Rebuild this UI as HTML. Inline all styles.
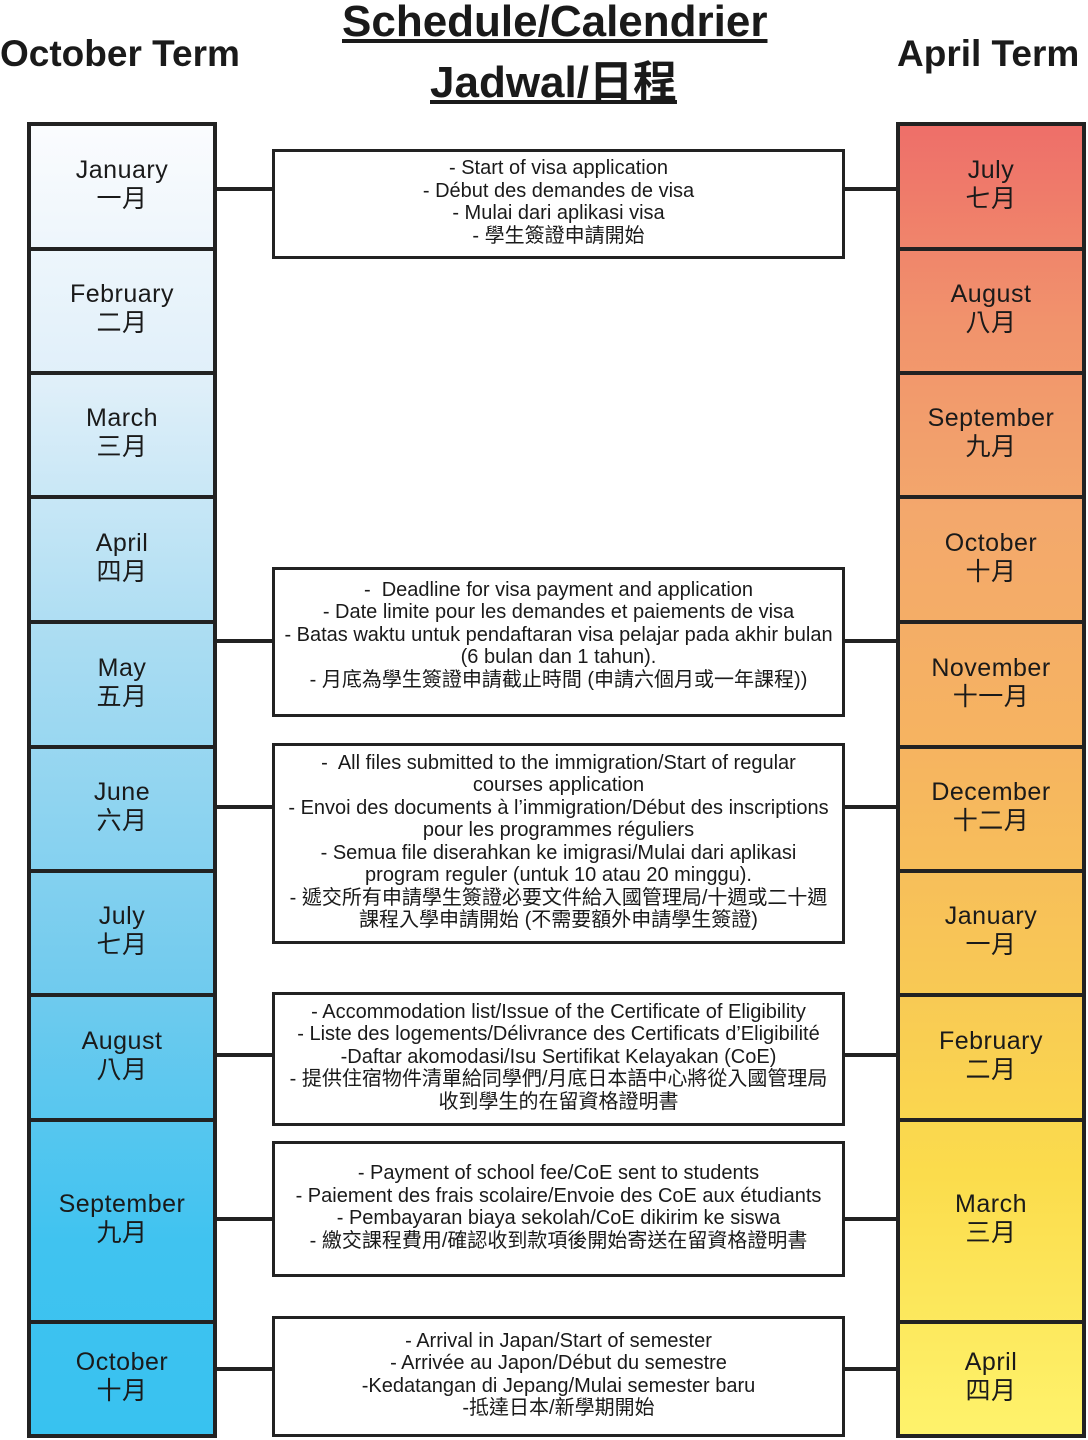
<!DOCTYPE html>
<html><head><meta charset="utf-8"><style>
*{margin:0;padding:0;box-sizing:border-box}
body{width:1088px;height:1440px;background:#fff;position:relative;overflow:hidden;font-family:"Liberation Sans","Noto Sans CJK TC",sans-serif;color:#1a1a1a}
.h{position:absolute;font-weight:bold;font-size:37px;white-space:nowrap}
.col{position:absolute;width:190px}
.cell{position:absolute;left:0;width:190px;border:4px solid #222;display:flex;flex-direction:column;justify-content:center;align-items:center;font-size:25px;line-height:29px;text-align:center;letter-spacing:0.5px;padding-bottom:4px}
.box{position:absolute;left:272px;width:573px;border:3px solid #222;background:#fff;display:flex;flex-direction:column;justify-content:center;align-items:center;font-size:20px;line-height:22.5px;text-align:center;white-space:nowrap;padding-bottom:4px}
.ln{position:absolute;height:4px;background:#222}
</style></head><body>
<div class="h" style="left:0;top:33px;">October Term</div>
<div class="h" style="left:897px;top:33px;">April Term</div>
<div class="h" style="left:342px;top:-3px;font-size:44px;text-decoration:underline;">Schedule/Calendrier</div>
<div class="h" style="left:430px;top:46px;font-size:44px;text-decoration:underline;">Jadwal/日程</div>

<div class="col" style="left:27px;top:122px;height:1316px;background:linear-gradient(#fbfcfe,#dfeff9 20%,#a9dcf2 40%,#72cbee 65%,#40c3f0 85%,#38c2f0)"></div>
<div class="col" style="left:896px;top:122px;height:1316px;background:linear-gradient(#ee6e69,#f1926c 15%,#f3a86c 30%,#f6b460 48%,#f8c855 65%,#fbdc4c 80%,#fef36c)"></div>

<div class="cell" style="left:27px;top:122px;height:129px">January<br>一月</div>
<div class="cell" style="left:27px;top:247px;height:128px">February<br>二月</div>
<div class="cell" style="left:27px;top:371px;height:128px">March<br>三月</div>
<div class="cell" style="left:27px;top:495px;height:129px">April<br>四月</div>
<div class="cell" style="left:27px;top:620px;height:129px">May<br>五月</div>
<div class="cell" style="left:27px;top:745px;height:128px">June<br>六月</div>
<div class="cell" style="left:27px;top:869px;height:128px">July<br>七月</div>
<div class="cell" style="left:27px;top:993px;height:129px">August<br>八月</div>
<div class="cell" style="left:27px;top:1118px;height:206px">September<br>九月</div>
<div class="cell" style="left:27px;top:1320px;height:118px">October<br>十月</div>

<div class="cell" style="left:896px;top:122px;height:129px">July<br>七月</div>
<div class="cell" style="left:896px;top:247px;height:128px">August<br>八月</div>
<div class="cell" style="left:896px;top:371px;height:128px">September<br>九月</div>
<div class="cell" style="left:896px;top:495px;height:129px">October<br>十月</div>
<div class="cell" style="left:896px;top:620px;height:129px">November<br>十一月</div>
<div class="cell" style="left:896px;top:745px;height:128px">December<br>十二月</div>
<div class="cell" style="left:896px;top:869px;height:128px">January<br>一月</div>
<div class="cell" style="left:896px;top:993px;height:129px">February<br>二月</div>
<div class="cell" style="left:896px;top:1118px;height:206px">March<br>三月</div>
<div class="cell" style="left:896px;top:1320px;height:118px">April<br>四月</div>

<div class="ln" style="left:217px;width:680px;top:187px"></div>
<div class="ln" style="left:217px;width:680px;top:639px"></div>
<div class="ln" style="left:217px;width:680px;top:805px"></div>
<div class="ln" style="left:217px;width:680px;top:1053px"></div>
<div class="ln" style="left:217px;width:680px;top:1217px"></div>
<div class="ln" style="left:217px;width:680px;top:1367px"></div>

<div class="box" style="top:149px;height:110px">
<div>- Start of visa application</div><div>- Début des demandes de visa</div><div>- Mulai dari aplikasi visa</div><div>- 學生簽證申請開始</div></div>

<div class="box" style="top:567px;height:150px;padding-bottom:14px">
<div>-&nbsp; Deadline for visa payment and application</div><div>- Date limite pour les demandes et paiements de visa</div><div>- Batas waktu untuk pendaftaran visa pelajar pada akhir bulan</div><div>(6 bulan dan 1 tahun).</div><div>- 月底為學生簽證申請截止時間 (申請六個月或一年課程))</div></div>

<div class="box" style="top:743px;height:201px">
<div>-&nbsp; All files submitted to the immigration/Start of regular</div><div>courses application</div><div>- Envoi des documents à l’immigration/Début des inscriptions</div><div>pour les programmes réguliers</div><div>- Semua file diserahkan ke imigrasi/Mulai dari aplikasi</div><div>program reguler (untuk 10 atau 20 minggu).</div><div>- 遞交所有申請學生簽證必要文件給入國管理局/十週或二十週</div><div>課程入學申請開始 (不需要額外申請學生簽證)</div></div>

<div class="box" style="top:992px;height:134px">
<div>- Accommodation list/Issue of the Certificate of Eligibility</div><div>- Liste des logements/Délivrance des Certificats d’Eligibilité</div><div>-Daftar akomodasi/Isu Sertifikat Kelayakan (CoE)</div><div>- 提供住宿物件清單給同學們/月底日本語中心將從入國管理局</div><div>收到學生的在留資格證明書</div></div>

<div class="box" style="top:1141px;height:136px">
<div>- Payment of school fee/CoE sent to students</div><div>- Paiement des frais scolaire/Envoie des CoE aux étudiants</div><div>- Pembayaran biaya sekolah/CoE dikirim ke siswa</div><div>- 繳交課程費用/確認收到款項後開始寄送在留資格證明書</div></div>

<div class="box" style="top:1316px;height:121px">
<div>- Arrival in Japan/Start of semester</div><div>- Arrivée au Japon/Début du semestre</div><div>-Kedatangan di Jepang/Mulai semester baru</div><div>-抵達日本/新學期開始</div></div>
</body></html>
